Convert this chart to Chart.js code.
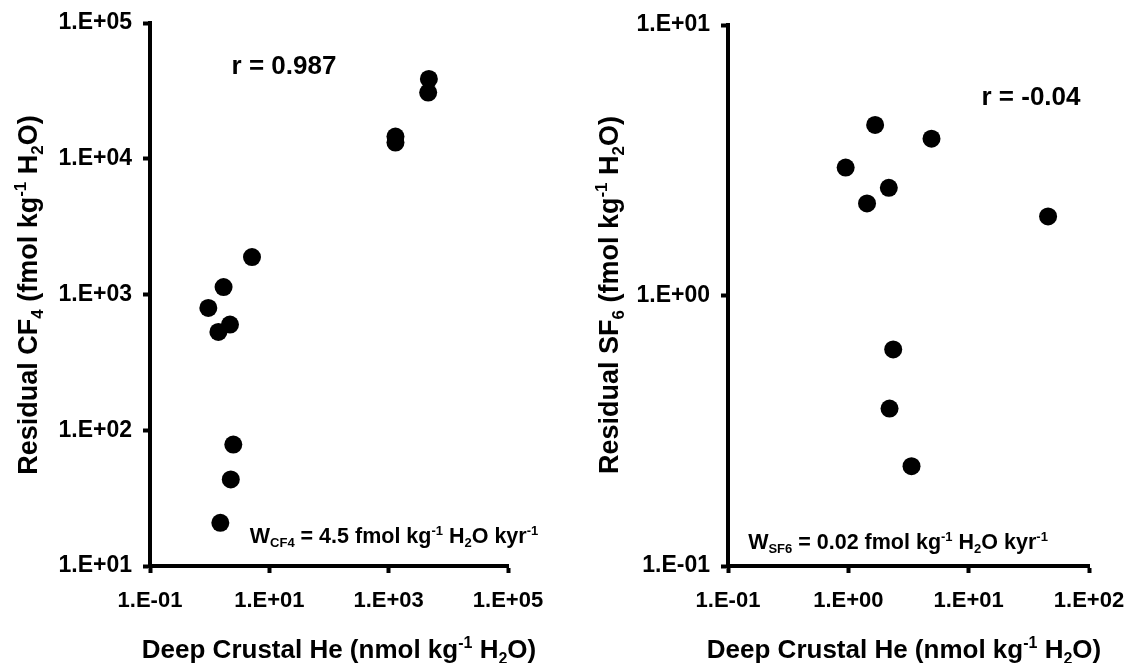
<!DOCTYPE html>
<html>
<head>
<meta charset="utf-8">
<script src="https://cdn.jsdelivr.net/npm/chart.js@4.4.1/dist/chart.umd.min.js"></script>
<style>
  html, body { margin: 0; padding: 0; background: #fff; }
  body { width: 1128px; height: 663px; position: relative; overflow: hidden; }
  .panel { position: absolute; top: 0; height: 663px; }
  #leftBox { left: 0; width: 560px; }
  #rightBox { left: 560px; width: 568px; }
</style>
</head>
<body>
<div class="panel" id="leftBox"><canvas id="cf4Chart"></canvas></div>
<div class="panel" id="rightBox"><canvas id="sf6Chart"></canvas></div>
<script>
// Values
const cf4He = [4720, 4595, 1300, 1300, 5.12, 1.71, 0.95, 2.19, 1.40, 2.49, 2.26, 1.51];
const cf4Res = [38700, 30700, 14560, 13160, 1888, 1135, 796, 600, 530, 78.5, 43.4, 20.8];

const sf6He = [1.67, 4.91, 0.95, 2.17, 1.43, 45.7, 2.36, 2.20, 3.35];
const sf6Res = [4.27, 3.80, 2.97, 2.50, 2.19, 1.96, 0.632, 0.382, 0.234];

// Axis ticks
const cf4XTicks = [0.1, 10, 1000, 100000];
const cf4XLabels = ['1.E-01', '1.E+01', '1.E+03', '1.E+05'];
const cf4YTicks = [10, 100, 1000, 10000, 100000];
const cf4YLabels = ['1.E+01', '1.E+02', '1.E+03', '1.E+04', '1.E+05'];

const sf6XTicks = [0.1, 1, 10, 100];
const sf6XLabels = ['1.E-01', '1.E+00', '1.E+01', '1.E+02'];
const sf6YTicks = [0.1, 1, 10];
const sf6YLabels = ['1.E-01', '1.E+00', '1.E+01'];

const FONT = '"Liberation Sans", Arial, Helvetica, sans-serif';
Chart.defaults.font.family = FONT;
Chart.defaults.font.weight = 'bold';
Chart.defaults.color = '#000';

// draw a line of text with sub / superscript pieces, centred on (cx, cy)
function drawRich(ctx, parts, cx, cy, size, rotate) {
  const small = Math.round(size * 0.62);
  ctx.save();
  ctx.translate(cx, cy);
  if (rotate) ctx.rotate(-Math.PI / 2);
  ctx.fillStyle = '#000';
  ctx.textAlign = 'left';
  ctx.textBaseline = 'alphabetic';

  const items = parts.map(p => Array.isArray(p) ? { t: p[0], s: p[1] } : { t: p, s: null });
  const widths = items.map(p => {
    ctx.font = `bold ${p.s ? small : size}px ${FONT}`;
    return ctx.measureText(p.t).width;
  });
  const total = widths.reduce((a, b) => a + b, 0);
  let x = -total / 2;
  const base = size * 0.36;
  items.forEach((p, i) => {
    ctx.font = `bold ${p.s ? small : size}px ${FONT}`;
    let dy = 0;
    if (p.s === 'sub') dy = size * 0.22;
    if (p.s === 'sup') dy = -size * 0.38;
    ctx.fillText(p.t, x, base + dy);
    x += widths[i];
  });
  ctx.restore();
}

const textPlugin = {
  id: 'richText',
  afterDraw(chart, args, opts) {
    (opts.items || []).forEach(it => {
      drawRich(chart.ctx, it.parts, it.x, it.y, it.size, it.rotate);
    });
  }
};

function logAxis(min, max, ticks, labels, fontSize, fit) {
  return {
    type: 'logarithmic',
    min: min,
    max: max,
    afterBuildTicks: s => { s.ticks = ticks.map(v => ({ value: v })); },
    afterFit: fit,
    ticks: {
      autoSkip: false,
      maxRotation: 0,
      color: '#000',
      font: { size: fontSize, weight: 'bold', lineHeight: 1.2 },
      callback: (v, i) => labels[i]
    },
    grid: {
      drawOnChartArea: false,
      drawTicks: true,
      tickLength: 7,
      tickWidth: 4,
      tickColor: '#000'
    },
    border: { display: true, color: '#000', width: 4 }
  };
}

function makeChart(id, xs, ys, xAxis, yAxis, padding, texts) {
  const ctx = document.getElementById(id);
  const xAx = logAxis(xAxis.min, xAxis.max, xAxis.ticks, xAxis.labels, 22, s => {
    s.height = 97;
    s.paddingLeft = 0;
    s.paddingRight = 0;
  });
  xAx.ticks.padding = 15;
  const yAx = logAxis(yAxis.min, yAxis.max, yAxis.ticks, yAxis.labels, 23, s => {
    s.width = yAxis.width;
    s.paddingTop = 0;
    s.paddingBottom = 0;
  });
  yAx.ticks.padding = 11;

  return new Chart(ctx, {
    type: 'scatter',
    data: {
      datasets: [{
        data: xs.map((x, i) => ({ x: x, y: ys[i] })),
        backgroundColor: '#000',
        borderColor: '#000',
        borderWidth: 0,
        pointRadius: 9,
        pointHoverRadius: 9
      }]
    },
    options: {
      responsive: true,
      maintainAspectRatio: false,
      animation: false,
      devicePixelRatio: 1,
      layout: { padding: padding },
      plugins: {
        legend: { display: false },
        tooltip: { enabled: false },
        richText: { items: texts }
      },
      scales: { x: xAx, y: yAx }
    },
    plugins: [textPlugin]
  });
}

// left panel: CF4
makeChart('cf4Chart', cf4He, cf4Res,
  { min: 0.1, max: 100000, ticks: cf4XTicks, labels: cf4XLabels },
  { min: 10, max: 100000, ticks: cf4YTicks, labels: cf4YLabels, width: 150 },
  { top: 23, right: 52, bottom: 0, left: 0 },
  [
    { parts: ['r = 0.987'], x: 284, y: 65, size: 26 },
    { parts: ['W', ['CF4', 'sub'], ' = 4.5 fmol kg', ['-1', 'sup'], ' H', ['2', 'sub'], 'O kyr', ['-1', 'sup']], x: 394, y: 535, size: 21.5 },
    { parts: ['Deep Crustal He (nmol kg', ['-1', 'sup'], ' H', ['2', 'sub'], 'O)'], x: 339, y: 649, size: 26 },
    { parts: ['Residual CF', ['4', 'sub'], ' (fmol kg', ['-1', 'sup'], ' H', ['2', 'sub'], 'O)'], x: 27, y: 295, size: 27, rotate: true }
  ]);

// right panel: SF6
makeChart('sf6Chart', sf6He, sf6Res,
  { min: 0.1, max: 100, ticks: sf6XTicks, labels: sf6XLabels },
  { min: 0.1, max: 10, ticks: sf6YTicks, labels: sf6YLabels, width: 168 },
  { top: 25, right: 39, bottom: 0, left: 0 },
  [
    { parts: ['r = -0.04'], x: 471, y: 96, size: 26 },
    { parts: ['W', ['SF6', 'sub'], ' = 0.02 fmol kg', ['-1', 'sup'], ' H', ['2', 'sub'], 'O kyr', ['-1', 'sup']], x: 338, y: 541, size: 21.5 },
    { parts: ['Deep Crustal He (nmol kg', ['-1', 'sup'], ' H', ['2', 'sub'], 'O)'], x: 344, y: 649, size: 26 },
    { parts: ['Residual SF', ['6', 'sub'], ' (fmol kg', ['-1', 'sup'], ' H', ['2', 'sub'], 'O)'], x: 48, y: 295, size: 27, rotate: true }
  ]);
</script>
</body>
</html>
